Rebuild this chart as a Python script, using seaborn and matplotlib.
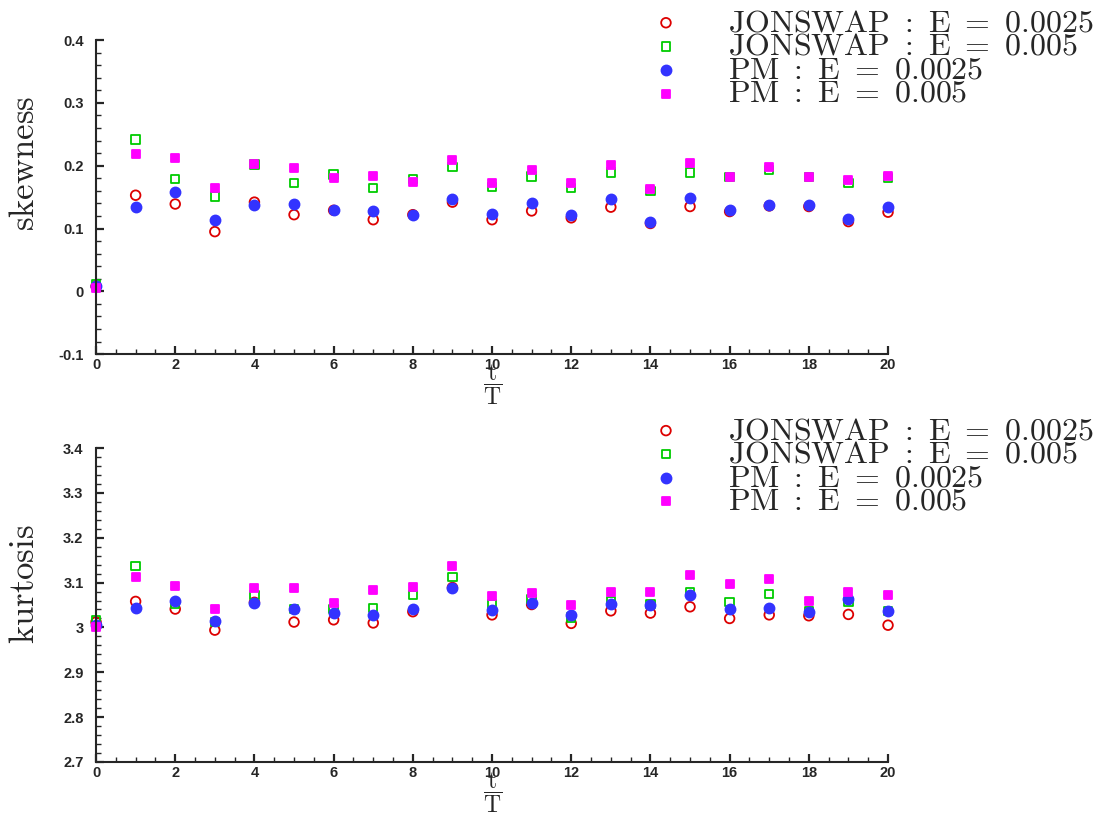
import matplotlib
matplotlib.use("Agg")
import matplotlib.pyplot as plt
import seaborn as sns
from matplotlib.ticker import MultipleLocator

t_over_T = list(range(21))

skew_jonswap_0025 = [0.008, 0.153, 0.139, 0.095, 0.142, 0.122, 0.129, 0.114, 0.122, 0.142, 0.114,
                     0.128, 0.117, 0.134, 0.108, 0.135, 0.127, 0.136, 0.135, 0.111, 0.126]
skew_jonswap_005 = [0.012, 0.242, 0.179, 0.151, 0.202, 0.173, 0.186, 0.164, 0.179, 0.198, 0.166,
                    0.183, 0.165, 0.189, 0.160, 0.189, 0.182, 0.193, 0.182, 0.172, 0.180]
skew_pm_0025 = [0.008, 0.134, 0.158, 0.114, 0.137, 0.139, 0.129, 0.128, 0.122, 0.147, 0.123,
                0.141, 0.121, 0.147, 0.111, 0.148, 0.130, 0.138, 0.137, 0.115, 0.135]
skew_pm_005 = [0.005, 0.219, 0.213, 0.164, 0.202, 0.197, 0.181, 0.184, 0.174, 0.209, 0.173,
               0.193, 0.173, 0.201, 0.163, 0.205, 0.182, 0.198, 0.182, 0.177, 0.183]

kurt_jonswap_0025 = [3.012, 3.058, 3.041, 2.994, 3.056, 3.012, 3.017, 3.010, 3.035, 3.089, 3.028,
                     3.051, 3.009, 3.037, 3.032, 3.046, 3.020, 3.028, 3.026, 3.029, 3.005]
kurt_jonswap_005 = [3.016, 3.137, 3.052, 3.012, 3.073, 3.041, 3.041, 3.043, 3.073, 3.113, 3.052,
                    3.063, 3.022, 3.059, 3.052, 3.079, 3.057, 3.074, 3.037, 3.056, 3.037]
kurt_pm_0025 = [3.005, 3.044, 3.058, 3.015, 3.055, 3.041, 3.032, 3.028, 3.040, 3.089, 3.039,
                3.055, 3.027, 3.052, 3.050, 3.073, 3.041, 3.044, 3.034, 3.063, 3.036]
kurt_pm_005 = [3.001, 3.113, 3.093, 3.040, 3.087, 3.089, 3.055, 3.084, 3.091, 3.138, 3.069,
               3.076, 3.051, 3.080, 3.080, 3.116, 3.096, 3.109, 3.060, 3.080, 3.073]

labels = [r"$\mathrm{JONSWAP\ :\ E\ =\ 0.0025}$", r"$\mathrm{JONSWAP\ :\ E\ =\ 0.005}$",
          r"$\mathrm{PM\ :\ E\ =\ 0.0025}$", r"$\mathrm{PM\ :\ E\ =\ 0.005}$"]

sns.set_style("ticks")
plt.rcParams["mathtext.fontset"] = "cm"
plt.rcParams["font.family"] = ["Liberation Sans", "DejaVu Sans"]

fig = plt.figure(figsize=(11.18, 8.14), dpi=100)
ax_top = fig.add_axes([0.0859, 0.565, 0.7084, 0.3857])
ax_bot = fig.add_axes([0.0859, 0.0639, 0.7084, 0.3857])

# (marker, size, facecolor, edgecolor)
styles = [("o", 48, "none", "#dd0000"),
          ("s", 36, "none", "#00cc00"),
          ("o", 52, "#3333ff", "#3333ff"),
          ("s", 36, "#ff00ff", "#ff00ff")]


def draw_panel(ax, series, ylabel, ylim, ymajor, ylabel_y, legend_top):
    for vals, lab, (mk, s, fc, ec) in zip(series, labels, styles):
        sns.scatterplot(x=t_over_T, y=vals, marker=mk, s=s, ax=ax, label=lab, clip_on=False)
        coll = ax.collections[-1]
        coll.set_facecolor(fc)
        coll.set_edgecolor(ec)
        coll.set_linewidth(1.3)

    ax.set_xlim(0, 20)
    ax.set_ylim(*ylim)
    ax.xaxis.set_major_locator(MultipleLocator(2))
    ax.xaxis.set_minor_locator(MultipleLocator(0.5))
    ax.yaxis.set_major_locator(MultipleLocator(ymajor))
    ax.yaxis.set_minor_locator(MultipleLocator(ymajor / 5))
    ax.yaxis.set_major_formatter(plt.FuncFormatter(lambda v, p: f"{v:.1f}".rstrip("0").rstrip(".") if abs(v) > 1e-9 else "0"))

    ax.tick_params(which="major", direction="in", length=6, width=1.6, labelsize=10.5)
    ax.tick_params(which="minor", direction="in", length=3.5, width=1.0)
    ax.tick_params(axis="y", which="major", pad=9)
    ax.tick_params(axis="x", which="major", pad=3)
    for lbl in ax.get_xticklabels() + ax.get_yticklabels():
        lbl.set_fontweight("bold")

    sns.despine(ax=ax)
    for sp in ("left", "bottom"):
        ax.spines[sp].set_linewidth(1.5)

    ax.set_xlabel(r"$\dfrac{\mathrm{t}}{\mathrm{T}}$", fontsize=17, labelpad=-7)
    ax.set_ylabel(r"$\mathrm{%s}$" % ylabel, fontsize=25)
    ax.yaxis.set_label_coords(-0.069, ylabel_y)

    ax.legend(loc="upper left", bbox_to_anchor=(650 / 1118, legend_top), bbox_transform=fig.transFigure,
              frameon=False, fontsize=23, handlelength=1.0, handletextpad=1.45,
              labelspacing=-0.2, borderpad=0, borderaxespad=0)


draw_panel(ax_top, [skew_jonswap_0025, skew_jonswap_005, skew_pm_0025, skew_pm_005],
           "skewness", (-0.1, 0.4), 0.1, 0.608, 0.99)
draw_panel(ax_bot, [kurt_jonswap_0025, kurt_jonswap_005, kurt_pm_0025, kurt_pm_005],
           "kurtosis", (2.7, 3.4), 0.1, 0.567, 1 - 416 / 814)

fig.savefig("out.png", dpi=100)
